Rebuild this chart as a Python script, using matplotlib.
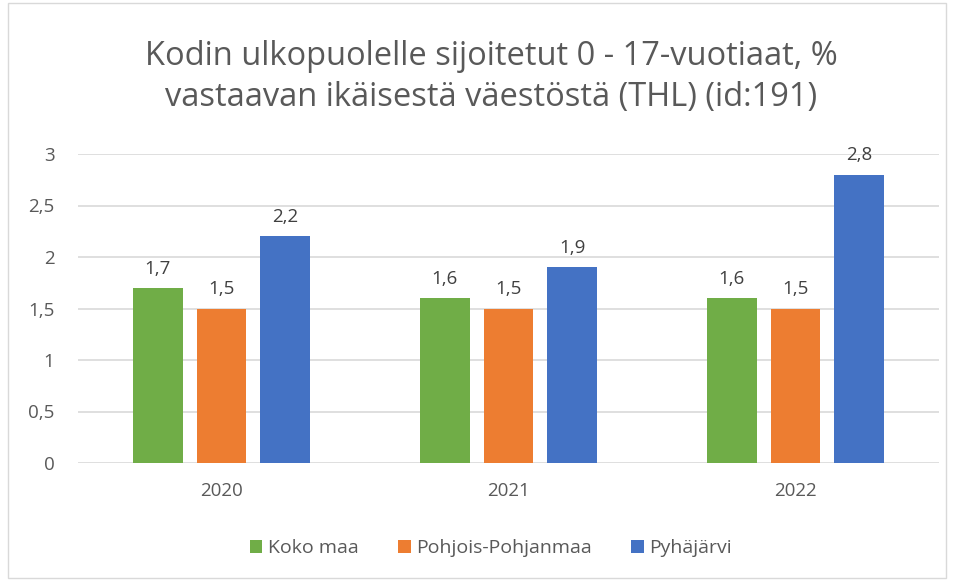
import numpy as np
import matplotlib.pyplot as plt
from matplotlib.patches import Rectangle

years = ['2020', '2021', '2022']
koko_maa = [1.7, 1.6, 1.6]
pohjois_pohjanmaa = [1.5, 1.5, 1.5]
pyhajarvi = [2.2, 1.9, 2.8]

series = [
    ('Koko maa', koko_maa, '#70AD47'),
    ('Pohjois-Pohjanmaa', pohjois_pohjanmaa, '#ED7D31'),
    ('Pyhäjärvi', pyhajarvi, '#4472C4'),
]

plt.rcParams['font.family'] = ['Open Sans', 'DejaVu Sans']
txt = '#595959'

fig = plt.figure(figsize=(9.54, 5.81), dpi=100)
fig.patches.append(Rectangle((8 / 954, 3 / 581), 938 / 954, 575 / 581,
                             transform=fig.transFigure, fill=False,
                             edgecolor='#D9D9D9', linewidth=1))

ax = fig.add_axes([78 / 954, 1 - 463 / 581, 861 / 954, 309 / 581])
x = np.arange(len(years))
width = 0.174
offset = 0.222
for i, (name, vals, color) in enumerate(series):
    pos = x + (i - 1) * offset
    bars = ax.bar(pos, vals, width, color=color, label=name, zorder=3)
    for b, v in zip(bars, vals):
        ax.text(b.get_x() + b.get_width() / 2, v + 0.1, f'{v:.1f}'.replace('.', ','),
                ha='center', va='bottom', fontsize=13.5, color='#404040')

ax.set_xlim(-0.5, 2.5)
ax.set_ylim(0, 3)
ax.set_yticks(np.arange(0, 3.01, 0.5))
ax.set_yticklabels(['0', '0,5', '1', '1,5', '2', '2,5', '3'])
ax.set_xticks(x)
ax.set_xticklabels(years)
ax.tick_params(axis='both', length=0, labelsize=13.5, labelcolor=txt)
ax.tick_params(axis='y', pad=17)
ax.tick_params(axis='x', pad=14)
ax.grid(axis='y', color='#D9D9D9', linewidth=1.2, zorder=0)
for s in ax.spines.values():
    s.set_visible(False)

fig.text(491 / 954, 1 - 77 / 581,
         'Kodin ulkopuolelle sijoitetut 0 - 17-vuotiaat, %\nvastaavan ikäisestä väestöstä (THL) (id:191)',
         ha='center', va='center', fontsize=23.5, color=txt, linespacing=1.3)

leg = fig.legend(loc='center', bbox_to_anchor=(491 / 954, 1 - 548 / 581), ncol=3,
                 frameon=False, fontsize=14, handlelength=0.65, handleheight=0.65,
                 handletextpad=0.3, columnspacing=2.0)
for t in leg.get_texts():
    t.set_color(txt)

fig.savefig('out.png', dpi=100)
